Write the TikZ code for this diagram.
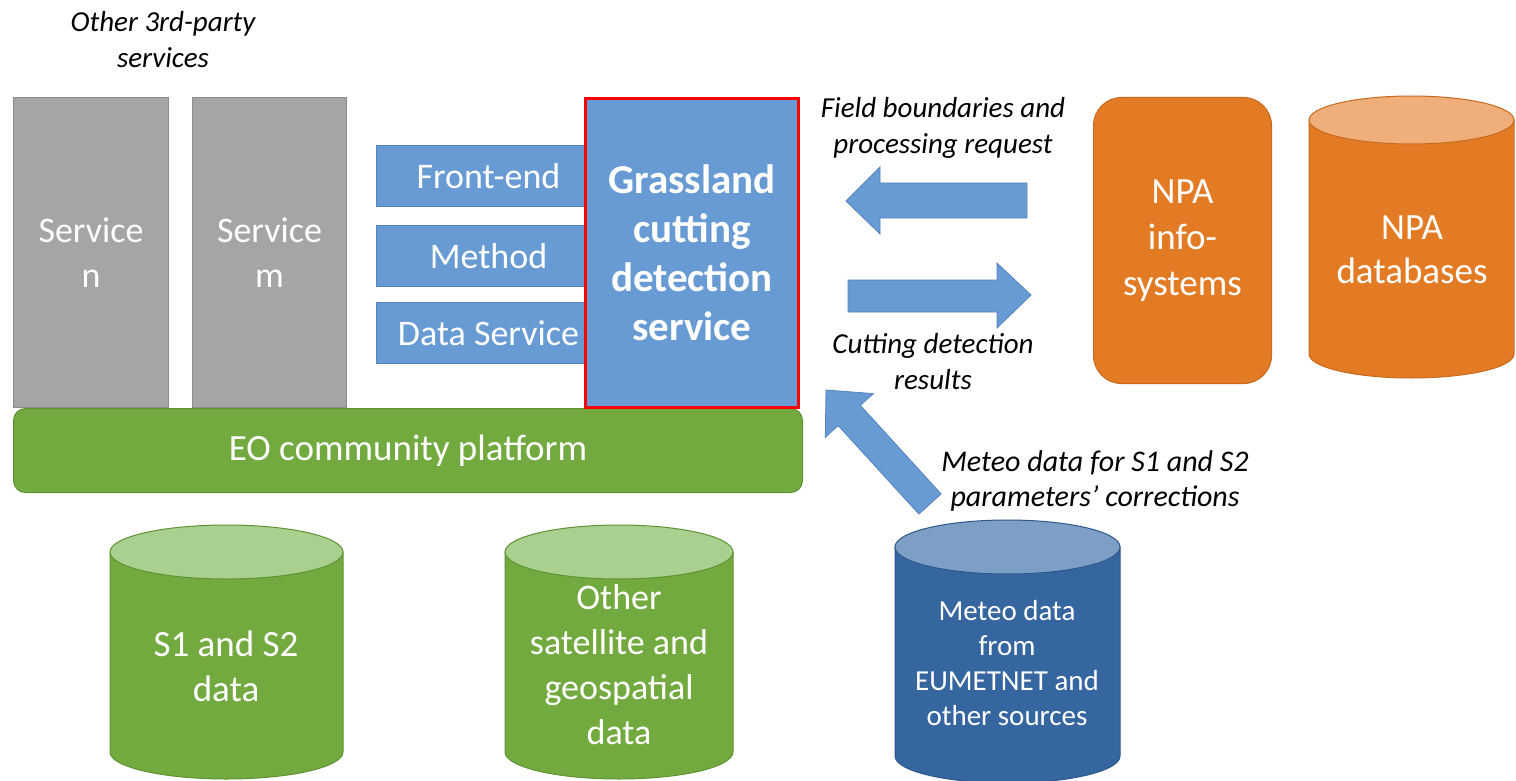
\documentclass[tikz,border=0pt]{standalone}
\usepackage{fontspec}
\setmainfont{Carlito}
\definecolor{svgray}{RGB}{165,165,165}
\definecolor{svgrayd}{RGB}{140,140,140}
\definecolor{bbox}{RGB}{104,155,212}
\definecolor{bboxd}{RGB}{84,132,188}
\definecolor{gr}{RGB}{115,170,64}
\definecolor{grd}{RGB}{96,146,52}
\definecolor{grt}{RGB}{169,208,142}
\definecolor{orn}{RGB}{227,123,36}
\definecolor{ornd}{RGB}{200,105,30}
\definecolor{ornt}{RGB}{240,174,122}
\definecolor{met}{RGB}{54,102,160}
\definecolor{metd}{RGB}{45,88,140}
\definecolor{mett}{RGB}{126,159,197}
\newcommand\drawcylinder[8]{%
  \fill[#6,draw=#8,line width=1pt] (#1,#3) -- (#1,#4) arc[start angle=180,end angle=0,x radius={(#2-#1)/2},y radius=#5] -- (#2,#3) -- cycle;
  \fill[#7,draw=#8,line width=1pt] ({(#1+#2)/2},#3) ellipse[x radius={(#2-#1)/2},y radius=#5];
}
\begin{document}
\begin{tikzpicture}[x=1pt,y=-1pt,
  svc/.style={draw=svgrayd,fill=svgray,line width=1pt,minimum width=155pt,minimum height=310pt,anchor=north west,inner sep=0pt,text=white,align=center,font=\fontsize{36}{45}\selectfont},
  subbox/.style={draw=bboxd,fill=bbox,line width=1pt,minimum width=224pt,minimum height=61pt,anchor=north west,inner sep=0pt,text=white,font=\fontsize{36}{44}\selectfont},
  lbl/.style={align=center,text=black,font=\fontsize{29}{36}\itshape\selectfont,inner sep=0pt},
  cyltext/.style={align=center,text=white,inner sep=0pt},
  blockarrow/.style={fill=bbox,draw=bboxd,line width=0.8pt}]
\useasboundingbox (0,0) rectangle (1516,781);
\fill[white] (0,0) rectangle (1516,781);

% title
\node[lbl] (title) at (163,40) {Other 3rd-party\\services};

% services
\node[svc] (svcn) at (13,97) {Service\\n};
\node[svc,minimum width=154pt] (svcm) at (192,97) {Service\\m};

% sub boxes
\node[subbox] (front) at (376,145) {Front-end};
\node[subbox] (method) at (376,225) {Method};
\node[subbox] (dataserv) at (376,302) {Data Service};

% EO platform
\node[draw=grd,fill=gr,line width=1pt,rounded corners=12pt,minimum width=789pt,minimum height=84pt,anchor=north west,inner sep=0pt,text=white,font=\fontsize{37}{44}\selectfont] (eo) at (13,408) {EO community platform};

% grassland
\node[draw=red,line width=3pt,fill=bbox,minimum width=213pt,minimum height=309pt,anchor=north west,inner sep=0pt,text=white,align=center,font=\fontsize{41}{49}\bfseries\selectfont] (grass) at (584,97) {Grassland\\cutting\\detection\\service};

% NPA info-systems
\node[draw=ornd,fill=orn,line width=1pt,rounded corners=28pt,minimum width=178pt,minimum height=286pt,anchor=north west,inner sep=0pt,text=white,align=center,font=\fontsize{37}{46}\selectfont] (npainfo) at (1093,97) {NPA\\info-\\systems};

% NPA databases cylinder
\drawcylinder{1309}{1514}{120}{354}{24}{orn}{ornt}{ornd}
\node[cyltext,font=\fontsize{37}{44}\selectfont] (npadb) at (1412,250) {NPA\\databases};

% green cylinders
\drawcylinder{110}{343}{552}{752}{27}{gr}{grt}{grd}
\node[cyltext,font=\fontsize{37}{45}\selectfont] (s1s2) at (226,666) {S1 and S2\\data};
\drawcylinder{505}{733}{552}{752}{27}{gr}{grt}{grd}
\node[cyltext,font=\fontsize{36}{45}\selectfont] (othersat) at (619,665) {Other\\satellite and\\geospatial\\data};

% meteo cylinder
\drawcylinder{895}{1120}{547}{756}{27}{met}{mett}{metd}
\node[cyltext,font=\fontsize{29}{35}\selectfont] (meteo) at (1007,663) {Meteo data\\from\\EUMETNET and\\other sources};

% block arrows
\draw[blockarrow] (846,201) -- (880,167) -- (880,183) -- (1027,183) -- (1027,218) -- (880,218) -- (880,234) -- cycle;
\draw[blockarrow] (1031,295) -- (997,263) -- (997,280) -- (848,280) -- (848,312) -- (997,312) -- (997,328) -- cycle;
\draw[blockarrow] (826,390) -- (873.3,393.6) -- (860.4,405.4) -- (941.1,493.9) -- (918.9,514.1) -- (838.2,425.6) -- (825.3,437.4) -- cycle;

% arrow labels
\node[lbl] (fieldlbl) at (943,128) {Field boundaries and\\processing request};
\node[lbl] (cutlbl) at (933,362) {Cutting detection\\results};
\node[lbl,font=\fontsize{30}{35}\itshape\selectfont] (meteolbl) at (1095,481) {Meteo data for S1 and S2\\parameters’ corrections};
\end{tikzpicture}
\end{document}
